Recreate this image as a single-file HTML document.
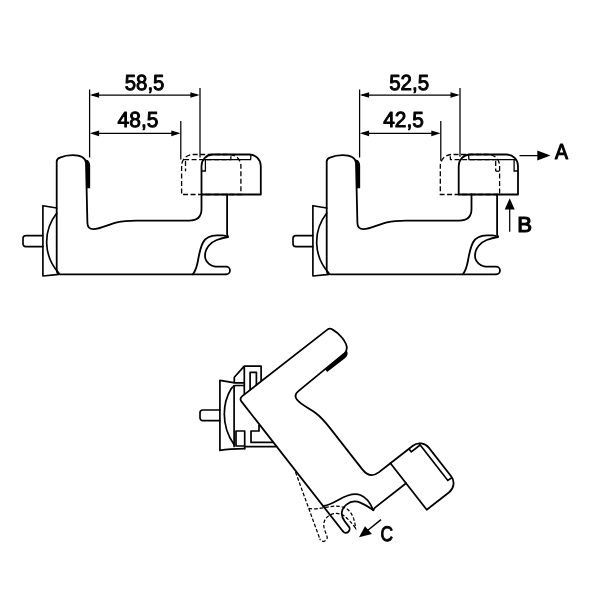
<!DOCTYPE html>
<html><head><meta charset="utf-8"><title>Dimensions</title>
<style>
html,body{margin:0;padding:0;background:#fff;}
body{width:600px;height:600px;overflow:hidden;font-family:"Liberation Sans",sans-serif;}
svg{display:block;will-change:transform}
.o{fill:none;stroke:#000;stroke-width:1.8;stroke-linecap:round;stroke-linejoin:round}
.q{fill:none;stroke:#000;stroke-width:1.7;stroke-linecap:round;stroke-linejoin:round}
.p{fill:none;stroke:#000;stroke-width:1.65;stroke-linecap:round;stroke-linejoin:round}
.m{fill:none;stroke:#000;stroke-width:1.3;stroke-linejoin:miter}
.m3{fill:none;stroke:#000;stroke-width:1.7;stroke-linejoin:miter}
.d{fill:none;stroke:#000;stroke-width:1.25}
.h{fill:none;stroke:#000;stroke-width:1.3;stroke-dasharray:5 2.5}
.h3{fill:none;stroke:#000;stroke-width:1.25;stroke-dasharray:3.6 1.9}
.a{fill:#000;stroke:none}
text{font-family:"Liberation Sans",sans-serif;font-size:21.8px;fill:#000;stroke:#000;stroke-width:1;stroke-linejoin:round;text-rendering:geometricPrecision}
text.b{font-size:21.8px;stroke-width:1.15}
</style></head><body>
<svg width="600" height="600" viewBox="0 0 600 600">
<rect width="600" height="600" fill="#fff"/>
<defs>
<g id="body">
<path class="o" d="M226,274.3 L60.6,274.3 C58.1,274.3 56.7,272.9 56.7,270.3 L56.7,161.4 C56.7,159.6 57.9,158.4 59.9,157.6 C63.5,156 68,155.1 72.5,155.1 C79,155.1 85.5,156.8 86,163 L87.4,222.8 C87.4,227.2 89.5,229.2 93.5,229.2 C100,229.2 108,224.6 117,222.3 C123,220.9 128,220.6 136,220.6 L189,220.6 C197,220.6 201.5,216.5 201.5,209 L201.5,194.5"/>
<path class="o" d="M227.1,194.5 L227.1,234.2 C227.1,235.6 228.3,236.2 227.9,237.1"/>
<path class="a" d="M85.4,159.4 C88.3,159.6 90.15,162 90.15,165.5 L90.15,188.2 L87,188.2 L86,163 Z"/>
</g>
<g id="hook1">
<path class="o" d="M192.9,274.3 C195.5,271 197,266 198,260.5 C199.3,253 200.5,247.5 203,242.5 C206,236.8 211,235.4 217,235.4 L222.5,235.4 C224.5,235.4 226.3,235.9 227.8,237 C224,237.7 220,238.8 216.7,240 C211,242.2 205,248 205,255.8 C205,262 210.5,266.7 218,266.7 L226.2,266.7 A3.8,3.8 0 0 1 226.2,274.3"/>
</g>
<g id="hook3"><path class="o" d="M193.7,274.3 C196.2,270.5 197.4,264.5 198.4,258 C199.8,249 202.5,241.5 208,238 C212.5,235.2 220,234.8 228.2,237.1 C222,238.8 217.5,240.8 214,242.8 C209.5,245.3 207,249.8 207,255 C207,261.8 211.8,266.7 219.5,266.7 L226,266.7 A3.8,3.8 0 0 1 226,274.3"/></g>
<g id="plate">
<path class="p" d="M56.7,208 L42.9,205.7 L42.9,276 L59,274.4"/>
<path class="p" d="M56.7,213.2 A46,46 0 0 0 58.8,273"/>
<path class="p" d="M42.9,235.6 L25.8,235.6 A2.8,2.8 0 0 0 23,238.4 L23,243.8 A2.8,2.8 0 0 0 25.8,246.6 L42.9,246.6"/>
</g>
<g id="cap">
<path class="o" d="M201.5,194.5 L201.5,165.9 A11.4,11.4 0 0 1 212.9,154.5 L249.4,154.5 A11.4,11.4 0 0 1 260.8,165.9 L260.8,194.5 Z"/>
<path class="m" d="M201.5,171 L205.4,171 L205.4,159.7 M203,159.7 L250.6,159.7 L251,154.5"/>
</g>
<g id="capd">
<path class="h" style="stroke-dashoffset:6.8" d="M231.15,194.5 L201.5,194.5 L201.5,165.9 A11.4,11.4 0 0 1 212.9,154.5 L249.4,154.5 A11.4,11.4 0 0 1 260.8,165.9 L260.8,194.5 L231.15,194.5"/>
<path class="h" d="M205.4,161 L205.4,171.2 M204,159.7 L250.6,159.7 L251,154.5"/>
</g>
<g id="cap3">
<path class="o" d="M201.5,194.5 L201.5,165.9 A11.4,11.4 0 0 1 212.9,154.5 L249.4,154.5 A11.4,11.4 0 0 1 260.8,165.9 L260.8,194.5 Z"/>
<path class="m3" d="M201.5,171 L205.4,171 L205.4,159.7 M203,159.7 L250.6,159.7 L251,154.5"/>
</g>
</defs>

<!-- figure 1 -->
<g>
<use href="#capd" transform="translate(-19.9,0)"/>
<use href="#plate"/>
<use href="#body"/>
<use href="#hook1"/>
<use href="#cap"/>
<path class="d" d="M89.6,89.5 L89.6,157.5 M200,88 L200,157.5 M180.8,121 L180.8,159.4 M92,95 L197,95 M92,133.3 L178,133.3"/>
<path class="a" d="M89.8,95 l9.3,-2.85 l0,5.7 Z M199.7,95 l-9.3,-2.85 l0,5.7 Z M89.8,133.3 l9.3,-2.85 l0,5.7 Z M180.6,133.3 l-9.3,-2.85 l0,5.7 Z"/>
<text x="124.8" y="90" textLength="39.6" lengthAdjust="spacingAndGlyphs">58,5</text>
<text x="117.6" y="127.2" textLength="40.8" lengthAdjust="spacingAndGlyphs">48,5</text>
</g>

<!-- figure 2 -->
<g transform="translate(270,0)">
<g transform="translate(431.1,0) scale(-1,1)"><use href="#capd"/></g>
<path class="m" d="M225.9,171.2 L229.4,171.2"/>
<use href="#plate"/>
<use href="#body"/>
<use href="#hook1"/>
<g transform="translate(449.5,0) scale(-1,1)"><use href="#cap"/></g>
<path class="d" d="M89.6,89.5 L89.6,157.5 M190,88 L190,156.7 M170.8,121 L170.8,160.8 M92,95 L187,95 M92,133.3 L168,133.3"/>
<path class="a" d="M89.8,95 l9.3,-2.85 l0,5.7 Z M189.8,95 l-9.3,-2.85 l0,5.7 Z M89.8,133.3 l9.3,-2.85 l0,5.7 Z M170.6,133.3 l-9.3,-2.85 l0,5.7 Z"/>
<text x="119.2" y="90" textLength="40" lengthAdjust="spacingAndGlyphs">52,5</text>
<text x="113.2" y="127.2" textLength="40.6" lengthAdjust="spacingAndGlyphs">42,5</text>
<path class="d" d="M249.5,155.6 L270,155.6 M239.7,231.8 L239.7,206"/>
<path class="a" d="M280.5,155.6 L267.3,150.6 L267.3,160.6 Z M239.7,198.3 L234.7,209.6 L244.7,209.6 Z"/>
<text class="b" x="284.9" y="159.1" textLength="13" lengthAdjust="spacingAndGlyphs">A</text>
<text class="b" x="247.3" y="231.7" textLength="14.8" lengthAdjust="spacingAndGlyphs">B</text>
</g>

<!-- figure 3 -->
<g>
<path class="q" d="M219.9,410 L202.8,410 A2.8,2.8 0 0 0 200,412.8 L200,417.8 A2.8,2.8 0 0 0 202.8,420.6 L219.9,420.6"/>
<path class="q" d="M244.3,382.9 L235,382.9 L219.9,380.3 L219.9,450.4 C226,449.4 232,448.8 244.6,448.7"/>
<path class="q" d="M244.3,385.5 L236,385.5 C233.5,385.5 232.3,387 231,389 C226.5,396.5 224.3,405 224.3,414 C224.3,425 228,436 234,444.5"/>
<path class="q" d="M234.3,382.5 L234.3,377.3 L244.3,366.1 L261.1,366.1 L261.1,380.4 M244.3,366.1 L244.3,393.5 M234.1,385.5 L234.1,446.5"/>
<path class="q" d="M250.1,389.6 L250.1,372.3 L256.4,372.3 L256.4,384.8"/>
<path class="q" d="M236,431 L244.7,431 L244.7,448.6 M236,446 L244.7,446 M236,431 L236,446"/>
<path class="q" d="M259,425.3 L259,431 L251,431 L251,442.4 L272.6,442.4 M244.7,446.6 L275.6,446.6"/>
</g>
<g transform="translate(323.2,537.6) rotate(70) translate(-226,-270.7)">
<path class="h3" d="M155,274.3 L226,274.3 M193.7,274.3 C196.2,270.5 197.4,264.5 198.4,258 C199.8,249 202.5,241.5 208,238 C212.5,235.2 220,234.8 228.2,237.1 C222,238.8 217.5,240.8 214,242.8 C209.5,245.3 207,249.8 207,255 C207,261.8 211.8,266.7 219.5,266.7 L226,266.7 A3.8,3.8 0 0 1 226,274.3"/>
</g>
<g transform="translate(239.1,398.5) rotate(52) scale(0.995) translate(-56.6,-274.3)">
<use href="#body"/>
<use href="#hook3"/>
<use href="#cap3"/>
</g>
<path class="d" style="stroke-width:1.4" d="M381,519.6 L366,531.7"/>
<path class="a" d="M359,537.3 L365,526.3 L371.9,534 Z"/>
<text class="b" x="380.6" y="540.9" textLength="12.6" lengthAdjust="spacingAndGlyphs" style="font-size:21px;stroke-width:1">C</text>
</svg>
</body></html>
